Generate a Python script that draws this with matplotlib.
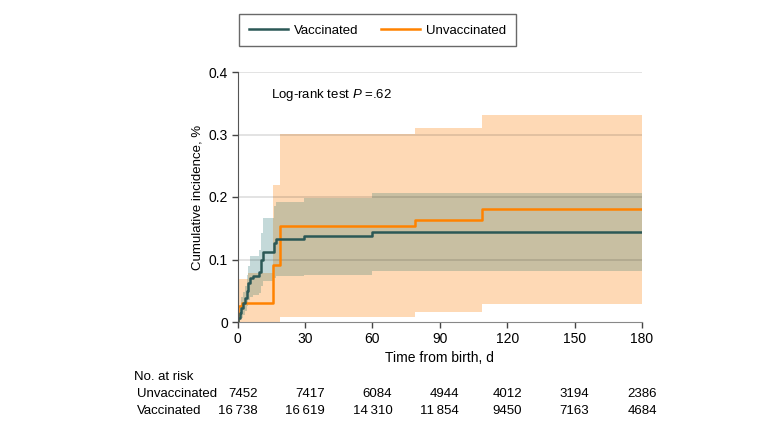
import numpy as np
import matplotlib
matplotlib.use("Agg")
import matplotlib.pyplot as plt

plt.rcParams['font.family'] = ['Liberation Sans', 'DejaVu Sans']
plt.rcParams['mathtext.fontset'] = 'custom'
plt.rcParams['mathtext.rm'] = 'Liberation Sans'
plt.rcParams['mathtext.it'] = 'Liberation Sans:italic'

# step curves (days, cumulative incidence %)
vac_t = [0, 0.3, 0.9, 1.6, 2.5, 3.3, 4.0, 4.5, 5.3, 6.8, 9.5, 10.3, 11.3, 16.0, 17.0, 29.5, 59.6]
vac_y = [0, 0.006, 0.015, 0.023, 0.030, 0.038, 0.050, 0.063, 0.071, 0.074, 0.080, 0.099, 0.112, 0.127, 0.133, 0.137, 0.144]
vac_up = [0, 0.012, 0.028, 0.040, 0.048, 0.058, 0.075, 0.090, 0.105, 0.105, 0.116, 0.142, 0.167, 0.185, 0.192, 0.198, 0.206]
vac_lo = [0, 0.0, 0.003, 0.007, 0.012, 0.018, 0.025, 0.035, 0.040, 0.043, 0.047, 0.058, 0.066, 0.070, 0.073, 0.076, 0.082]

unv_t = [0, 0.3, 2.0, 4.7, 15.6, 18.8, 79, 108.6]
unv_y = [0, 0.025, 0.031, 0.031, 0.091, 0.154, 0.163, 0.181]
unv_up = [0, 0.069, 0.069, 0.078, 0.219, 0.301, 0.311, 0.332]
unv_lo = [0, 0, 0, 0, 0, 0.0075, 0.0155, 0.029]

t_end = 180
ticks_x = [0, 30, 60, 90, 120, 150, 180]
risk_unv = [7452, 7417, 6084, 4944, 4012, 3194, 2386]
risk_vac = [16738, 16619, 14310, 11854, 9450, 7163, 4684]

c_vac = '#2b5856'
c_unv = '#ff8200'
c_peach = '#fed9b5'
c_teal = '#c4d9d9'
c_both = '#c8bfa2'
fs = 9.5


def ext(t, v):
    return np.array(list(t) + [t_end]), np.array(list(v) + [v[-1]])


def step_at(t, v, grid):
    idx = np.searchsorted(np.array(t), grid, side='right') - 1
    return np.array(v)[idx]


W, H = 780, 429
fig = plt.figure(figsize=(W / 100, H / 100), dpi=100)
ax = fig.add_axes([237.7 / W, 1 - 322 / H, (642 - 237.7) / W, 250 / H])

grid = np.unique(np.concatenate([vac_t, unv_t, [t_end]]))
vu = step_at(vac_t, vac_up, grid)
vl = step_at(vac_t, vac_lo, grid)
uu = step_at(unv_t, unv_up, grid)
ul = step_at(unv_t, unv_lo, grid)

ax.fill_between(grid, ul, uu, step='post', color=c_peach, lw=0, zorder=1)
ax.fill_between(grid, vl, vu, step='post', color=c_teal, lw=0, zorder=1.5)
lo = np.maximum(vl, ul)
hi = np.minimum(vu, uu)
ax.fill_between(grid, lo, hi, where=hi > lo, step='post', color=c_both, lw=0, zorder=2)

for yv in [0.1, 0.2, 0.3, 0.4]:
    ax.axhline(yv, color='#000000', alpha=0.12, lw=1.3, zorder=2.5)

tx, ty = ext(vac_t, vac_y)
ax.step(tx, ty, where='post', color=c_vac, lw=1.8, zorder=4, label='Vaccinated')
tx, ty = ext(unv_t, unv_y)
ax.step(tx, ty, where='post', color=c_unv, lw=1.8, zorder=3.5, label='Unvaccinated')

ax.set_xlim(0, 180)
ax.set_ylim(0, 0.4)
ax.set_xticks(ticks_x)
ax.set_yticks([0, 0.1, 0.2, 0.3, 0.4])
ax.set_yticklabels(['0', '0.1', '0.2', '0.3', '0.4'])
for s in ['top', 'right']:
    ax.spines[s].set_visible(False)
ax.spines['left'].set_color('#555555')
ax.spines['bottom'].set_color('#888888')
ax.spines['left'].set_zorder(5)
ax.tick_params(axis='both', colors='#444444', labelcolor='black', labelsize=10,
               length=4, width=1, pad=3)
ax.set_xlabel('Time from birth, d', fontsize=10, labelpad=3.5)
ax.set_ylabel('Cumulative incidence, %', fontsize=fs, labelpad=4)

ax.text(14.7, 0.363, 'Log-rank test $\\it{P}$ =.62', fontsize=fs, va='center', ha='left')

leg = fig.legend(loc='center left', bbox_to_anchor=(239 / W, 1 - 30.4 / H), ncol=2,
                 fontsize=fs, frameon=True, fancybox=False, borderaxespad=0,
                 handlelength=3.0, handletextpad=0.4, columnspacing=1.7,
                 borderpad=0.75)
leg.get_frame().set_edgecolor('#444444')
leg.get_frame().set_linewidth(1.0)

# risk table
fig.text(134 / W, 1 - 376.7 / H, 'No. at risk', fontsize=fs, va='center', ha='left')
fig.text(136.5 / W, 1 - 394.3 / H, 'Unvaccinated', fontsize=fs, va='center', ha='left')
fig.text(136.5 / W, 1 - 411 / H, 'Vaccinated', fontsize=fs, va='center', ha='left')


def fmt(n):
    s = str(n)
    return s[:-3] + '\u2009' + s[-3:] if n >= 10000 else s


renderer = fig.canvas.get_renderer()
for tk, a, b in zip(ticks_x, risk_unv, risk_vac):
    xc = ax.transData.transform((tk, 0))[0]
    # widest entry centred under the tick, column right-aligned to it
    ta = fig.text(0, 0, fmt(a), fontsize=fs)
    tb = fig.text(0, 0, fmt(b), fontsize=fs)
    wmax = max(ta.get_window_extent(renderer).width, tb.get_window_extent(renderer).width)
    right = (xc + wmax / 2) / W
    for t, yy in [(ta, 394.3), (tb, 411)]:
        t.set_position((right, 1 - yy / H))
        t.set_ha('right')
        t.set_va('center')

fig.savefig('out.png', dpi=100)
